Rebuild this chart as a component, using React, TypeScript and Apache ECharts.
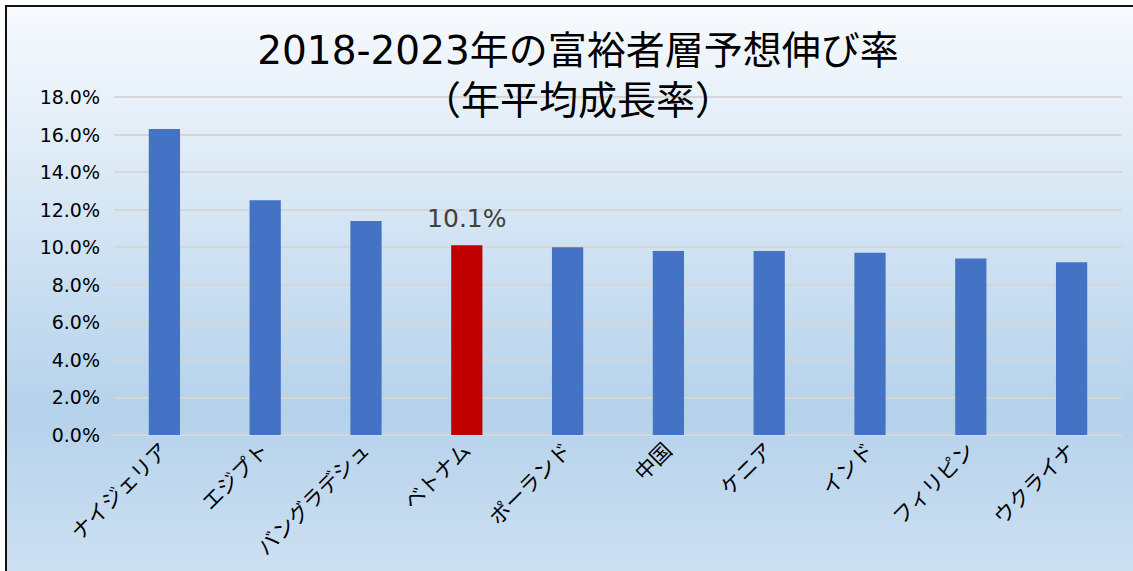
import React, { useEffect, useRef } from "react";
import * as echarts from "echarts";

const categories = ["ナイジェリア", "エジプト", "バングラデシュ", "ベトナム", "ポーランド", "中国", "ケニア", "インド", "フィリピン", "ウクライナ"];
const values = [16.3, 12.5, 11.4, 10.1, 10.0, 9.8, 9.8, 9.7, 9.4, 9.2];
const highlightIndex = 3;
const titleLines = ["2018-2023年の富裕者層予想伸び率", "（年平均成長率）"];

const FONT = "'DejaVu Sans', 'Noto Sans CJK JP', sans-serif";

export default function App() {
  const ref = useRef<HTMLDivElement>(null);
  useEffect(() => {
    if (!ref.current) return;
    const chart = echarts.init(ref.current, null, { renderer: "svg" });
    chart.setOption({
      animation: false,
      backgroundColor: "#ffffff",
      graphic: [
        {
          type: "rect",
          z: -10,
          silent: true,
          shape: { x: 6, y: 6, width: 1140, height: 580 },
          style: {
            fill: new echarts.graphic.LinearGradient(0, 0, 0, 1, [
              { offset: 0, color: "#f7fafd" },
              { offset: 0.7, color: "#b5d2eb" },
              { offset: 1, color: "#cfe1f2" },
            ]),
            stroke: "#111111",
            lineWidth: 2,
          },
        },
      ],
      title: {
        text: titleLines.join("\n"),
        left: 573,
        top: 20,
        textAlign: "center",
        textStyle: {
          fontFamily: FONT,
          fontSize: 39,
          fontWeight: "normal",
          color: "#000000",
          lineHeight: 50,
        },
      },
      grid: { left: 114, right: 11, top: 97, bottom: 136, containLabel: false },
      xAxis: {
        type: "category",
        data: categories,
        axisLine: { show: true, lineStyle: { color: "#d6d6d6", width: 2 } },
        axisTick: { show: false },
        axisLabel: {
          rotate: 45,
          interval: 0,
          fontFamily: FONT,
          fontSize: 21,
          color: "#000000",
          margin: 12,
        },
      },
      yAxis: {
        type: "value",
        min: 0,
        max: 18,
        interval: 2,
        axisLine: { show: false },
        axisTick: { show: false },
        splitLine: { lineStyle: { color: "#d6d6d6", width: 2 } },
        axisLabel: {
          formatter: (v: number) => v.toFixed(1) + "%",
          fontFamily: FONT,
          fontSize: 19,
          color: "#000000",
          margin: 14,
        },
      },
      series: [
        {
          type: "bar",
          barWidth: "31%",
          data: values.map((v, i) =>
            i === highlightIndex
              ? {
                  value: v,
                  itemStyle: { color: "#c00000" },
                  label: {
                    show: true,
                    position: "top",
                    distance: 14,
                    formatter: (p: any) => p.value.toFixed(1) + "%",
                    fontFamily: FONT,
                    fontSize: 25,
                    color: "#404040",
                  },
                }
              : { value: v, itemStyle: { color: "#4472c4" } }
          ),
        },
      ],
    });
    return () => chart.dispose();
  }, []);
  return (
    <div
      ref={ref}
      style={{ position: "absolute", left: 0, top: 0, width: 1133, height: 571 }}
    />
  );
}
